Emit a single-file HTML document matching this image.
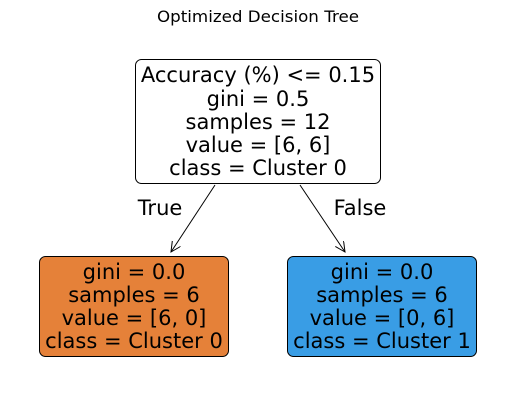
<!DOCTYPE html>
<html><head><meta charset="utf-8"><style>
html,body{margin:0;padding:0;background:#fff;width:515px;height:409px;overflow:hidden}
svg{display:block}
text{font-family:"DejaVu Sans","Liberation Sans",sans-serif;fill:#000}
</style></head><body>
<svg width="515" height="409" viewBox="0 0 515 409" xmlns="http://www.w3.org/2000/svg">
<defs><marker id="a" markerWidth="12" markerHeight="12" refX="10" refY="5" orient="auto" markerUnits="userSpaceOnUse"><path d="M0,0 L10,5 L0,10" fill="none" stroke="#000" stroke-width="1"/></marker></defs>
<text x="258" y="22" font-size="16" text-anchor="middle" textLength="202" lengthAdjust="spacingAndGlyphs">Optimized Decision Tree</text>
<rect x="135.5" y="59.5" width="245" height="124" rx="6" fill="#fff" stroke="#000" stroke-width="1"/>
<g font-size="21" text-anchor="middle">
<text x="258" y="82">Accuracy (%) &lt;= 0.15</text>
<text x="258" y="106">gini = 0.5</text>
<text x="258" y="129">samples = 12</text>
<text x="258" y="152">value = [6, 6]</text>
<text x="258" y="175">class = Cluster 0</text>
</g>
<line x1="215" y1="185" x2="171" y2="252" stroke="#000" stroke-width="1" marker-end="url(#a)"/>
<line x1="300" y1="185" x2="345" y2="252" stroke="#000" stroke-width="1" marker-end="url(#a)"/>
<text x="160" y="215" font-size="21" text-anchor="middle">True</text>
<text x="360" y="215" font-size="21" text-anchor="middle">False</text>
<rect x="39.5" y="256.5" width="189" height="100" rx="6" fill="#e58139" stroke="#000" stroke-width="1"/>
<g font-size="21" text-anchor="middle">
<text x="134" y="279">gini = 0.0</text>
<text x="134" y="302">samples = 6</text>
<text x="134" y="325">value = [6, 0]</text>
<text x="134" y="348">class = Cluster 0</text>
</g>
<rect x="287.5" y="256.5" width="189" height="100" rx="6" fill="#399de5" stroke="#000" stroke-width="1"/>
<g font-size="21" text-anchor="middle">
<text x="382" y="279">gini = 0.0</text>
<text x="382" y="302">samples = 6</text>
<text x="382" y="325">value = [0, 6]</text>
<text x="382" y="348">class = Cluster 1</text>
</g>
</svg>
</body></html>
